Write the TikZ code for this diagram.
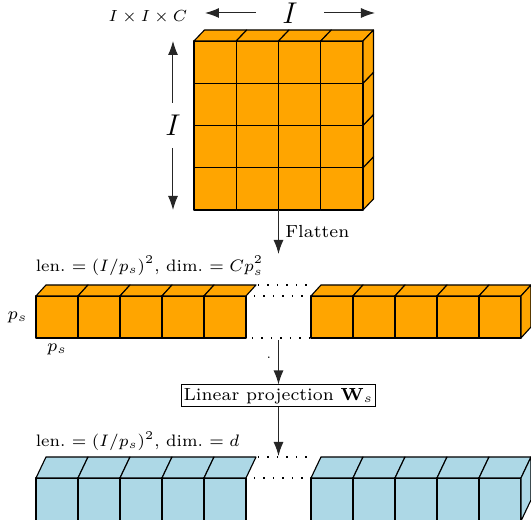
\documentclass[tikz,border=0pt]{standalone}
\usepackage{amsmath,amssymb}
\usepackage{tikz}
\usetikzlibrary{arrows.meta, positioning, calc}
\definecolor{patchorange}{RGB}{255,165,0}
\definecolor{tokenblue}{RGB}{173,216,230}
\tikzset{
	face_orange/.style={draw=black, fill=patchorange, line width=0.45pt, line join=round},
	face_blue/.style={draw=black, fill=tokenblue, line width=0.45pt, line join=round},
	dim_arrow/.style={-{Latex[length=5.6pt, width=4pt]}, draw=black!85, line width=0.4pt},
	flow_arrow/.style={-{Latex[length=5.6pt, width=4pt]}, draw=black!85, line width=0.45pt},
	gap_dots/.style={draw=black, line width=0.6pt, dash pattern=on 0.6pt off 3.2pt},
	lbl/.style={font=\scriptsize, inner sep=1pt},
	len_lbl/.style={font=\scriptsize, inner sep=1pt, anchor=west, scale=0.95, transform shape},
	dim_lbl/.style={font=\large, inner sep=0pt},
	proj_box/.style={rectangle, draw=black, font=\scriptsize, minimum width=76.8pt, minimum height=8.8pt, inner sep=1pt}
}

\begin{document}
\begin{tikzpicture}[x=4pt, y=4pt, >=latex]
	\useasboundingbox (0,0) rectangle (53.1,52.0);
	% input image, 4x4 patches
	\coordinate (cube_sw) at (19.4,31.0);
	\foreach \i in {0,...,3} {
		\foreach \j in {0,...,3} {
			\draw[face_orange] ($(cube_sw)+(\i*4.225,\j*4.225)$) rectangle ++(4.225,4.225);
		}
		\draw[face_orange] ($(cube_sw)+(\i*4.225,16.9)$) -- ++(1.05,1.1) -- ++(4.225,0) -- ++(-1.05,-1.1) -- cycle;
		\draw[face_orange] ($(cube_sw)+(16.9,\i*4.225)$) -- ++(1.05,1.1) -- ++(0,4.225) -- ++(-1.05,-1.1) -- cycle;
	}
	\node[lbl, scale=0.92, transform shape] (size_in) at (14.8,50.3) {$I \times I \times C$};
	\node[dim_lbl, minimum width=27pt] (dim_h) at (29.0,50.7) {$I$};
	\coordinate (h_left) at (20.5,50.7);
	\coordinate (h_right) at (37.5,50.7);
	\draw[dim_arrow] (dim_h.west) -- (h_left);
	\draw[dim_arrow] (dim_h.east) -- (h_right);
	\node[dim_lbl, minimum height=17.6pt] (dim_v) at (17.3,39.45) {$I$};
	\coordinate (v_top) at (17.3,47.9);
	\coordinate (v_bot) at (17.3,31.0);
	\draw[dim_arrow] (dim_v.north) -- (v_top);
	\draw[dim_arrow] (dim_v.south) -- (v_bot);
	% flatten
	\coordinate (cube_s) at (27.85,31.0);
	\coordinate (bar1_in) at (27.85,26.6);
	\draw[flow_arrow] (cube_s) -- node[lbl, right=1.5pt] (flat_lbl) {Flatten} (bar1_in);
	% flattened patches
	\coordinate (bar1_l) at (3.6,18.2);
	\coordinate (bar1_r) at (31.1,18.2);
	\foreach \k in {0,...,4} {
		\draw[face_orange] ($(bar1_l)+(\k*4.2,0)$) rectangle ++(4.2,4.2);
		\draw[face_orange] ($(bar1_l)+(\k*4.2,4.2)$) -- ++(1.0,1.1) -- ++(4.2,0) -- ++(-1.0,-1.1) -- cycle;
		\draw[face_orange] ($(bar1_r)+(\k*4.2,0)$) rectangle ++(4.2,4.2);
		\draw[face_orange] ($(bar1_r)+(\k*4.2,4.2)$) -- ++(1.0,1.1) -- ++(4.2,0) -- ++(-1.0,-1.1) -- cycle;
	}
	\draw[face_orange] ($(bar1_r)+(21,0)$) -- ++(1.0,1.1) -- ++(0,4.2) -- ++(-1.0,-1.1) -- cycle;
	\draw[gap_dots] (25.8,23.5) -- (31.4,23.5);
	\draw[gap_dots] (25.4,22.4) -- (31.2,22.4);
	\draw[gap_dots] (25.2,18.2) -- (31.2,18.2);
	\node[len_lbl] (len_flat) at (3.3,25.4) {len.\ $=(I/p_s)^2$, dim.\ $=Cp_s^2$};
	\node[lbl] (ps_side) at (1.75,20.3) {$p_s$};
	\node[lbl] (ps_below) at (5.7,17.1) {$p_s$};
	% projection
	\node[proj_box] (proj) at (27.85,12.4) {Linear projection $\mathbf{W}_s$};
	\coordinate (bar1_out) at (27.85,18.0);
	\coordinate (bar2_in) at (27.85,6.4);
	\draw[flow_arrow] (bar1_out) -- (proj);
	\draw[flow_arrow] (proj) -- (bar2_in);
	\node[font=\tiny, inner sep=0pt] (stray_dot) at (26.9,16.2) {.};
	% embedded tokens
	\coordinate (bar2_l) at (3.6,-0.1);
	\coordinate (bar2_r) at (31.1,-0.1);
	\foreach \k in {0,...,4} {
		\draw[face_blue] ($(bar2_l)+(\k*4.2,0)$) rectangle ++(4.2,4.3);
		\draw[face_blue] ($(bar2_l)+(\k*4.2,4.3)$) -- ++(1.0,2.1) -- ++(4.2,0) -- ++(-1.0,-2.1) -- cycle;
		\draw[face_blue] ($(bar2_r)+(\k*4.2,0)$) rectangle ++(4.2,4.3);
		\draw[face_blue] ($(bar2_r)+(\k*4.2,4.3)$) -- ++(1.0,2.1) -- ++(4.2,0) -- ++(-1.0,-2.1) -- cycle;
	}
	\draw[face_blue] ($(bar2_r)+(21,0)$) -- ++(1.0,2.1) -- ++(0,4.3) -- ++(-1.0,-2.1) -- cycle;
	\draw[gap_dots] (25.8,6.3) -- (31.4,6.3);
	\draw[gap_dots] (25.4,4.2) -- (31.2,4.2);
	\draw[gap_dots] (25.2,-0.1) -- (31.2,-0.1);
	\node[len_lbl] (len_emb) at (3.3,7.9) {len.\ $=(I/p_s)^2$, dim.\ $=d$};
\end{tikzpicture}
\end{document}
